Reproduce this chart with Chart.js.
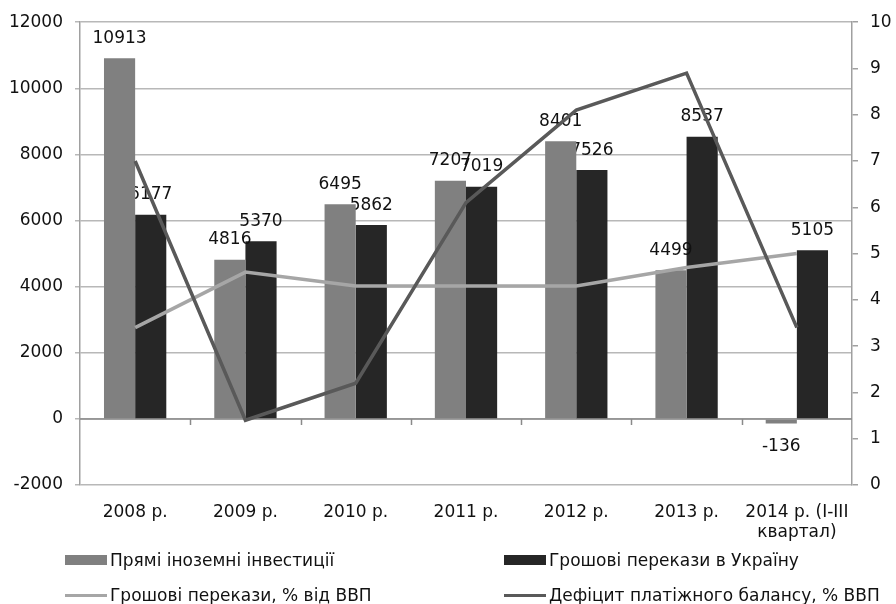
<!DOCTYPE html>
<html>
<head>
<meta charset="utf-8">
<script src="https://cdn.jsdelivr.net/npm/chart.js@4/dist/chart.umd.min.js"></script>
<style>
  body { margin:0; background:#fff; }
  #wrap { position:relative; width:896px; height:604px; }
  #legend { position:absolute; left:0; top:0; width:896px; height:604px; pointer-events:none;
    font-family: "DejaVu Sans", sans-serif; font-size:17px; color:#111; }
  .item { position:absolute; display:flex; align-items:center; white-space:nowrap; height:20px; }
  .sw { display:inline-block; margin-right:3px; }
</style>
</head>
<body>
<div id="wrap">
  <canvas id="chart" width="896" height="604"></canvas>
  <div id="legend"></div>
</div>
<script>
const years = ["2008 р.", "2009 р.", "2010 р.", "2011 р.", "2012 р.", "2013 р.", ["2014 р. (I-III", "квартал)"]];
const fdi = [10913, 4816, 6495, 7207, 8401, 4499, -136];
const remittances = [6177, 5370, 5862, 7019, 7526, 8537, 5105];
const remitGdp = [3.4, 4.6, 4.3, 4.3, 4.3, 4.7, 5.0];
const deficitGdp = [7.0, 1.4, 2.2, 6.1, 8.1, 8.9, 3.4];

const FONT = "'DejaVu Sans', sans-serif";

// підписи значень над стовпчиками
const barLabels = {
  id: "barLabels",
  afterDatasetDraw(chart, args) {
    const ds = chart.data.datasets[args.index];
    if (ds.type !== "bar") return;
    const ctx = chart.ctx;
    ctx.save();
    ctx.font = "17px " + FONT;
    ctx.fillStyle = "#111";
    ctx.textAlign = "center";
    ctx.textBaseline = "middle";
    args.meta.data.forEach((el, i) => {
      const v = ds.data[i];
      const y = v >= 0 ? el.y - 20 : el.y + 23;
      ctx.fillText(String(v), el.x, y);
    });
    ctx.restore();
  }
};

// вісь X на нулі з поділками між категоріями
const zeroAxis = {
  id: "zeroAxis",
  beforeDatasetsDraw(chart) {
    const x = chart.scales.x, y = chart.scales.y;
    const ctx = chart.ctx;
    const y0 = y.getPixelForValue(0);
    ctx.save();
    ctx.strokeStyle = "#8a8a8a";
    ctx.lineWidth = 1.5;
    ctx.beginPath();
    ctx.moveTo(chart.chartArea.left, y0);
    ctx.lineTo(chart.chartArea.right, y0);
    const step = x.getPixelForValue(1) - x.getPixelForValue(0);
    for (let i = 1; i < years.length; i++) {
      const px = Math.round(x.getPixelForValue(i) - step / 2) + 0.5;
      ctx.moveTo(px, y0);
      ctx.lineTo(px, y0 + 6);
    }
    ctx.stroke();
    ctx.restore();
  }
};

const chart = new Chart(document.getElementById("chart"), {
  data: {
    labels: years,
    datasets: [
      { type: "bar", label: "Прямі іноземні інвестиції", data: fdi, backgroundColor: "#808080",
        yAxisID: "y", order: 2, categoryPercentage: 0.565, barPercentage: 1 },
      { type: "bar", label: "Грошові перекази в Україну", data: remittances, backgroundColor: "#262626",
        yAxisID: "y", order: 2, categoryPercentage: 0.565, barPercentage: 1 },
      { type: "line", label: "Грошові перекази, % від ВВП", data: remitGdp, borderColor: "#a6a6a6",
        borderWidth: 3.5, pointRadius: 0, yAxisID: "y1", order: 1 },
      { type: "line", label: "Дефіцит платіжного балансу, % ВВП", data: deficitGdp, borderColor: "#595959",
        borderWidth: 3.5, pointRadius: 0, yAxisID: "y1", order: 0 }
    ]
  },
  options: {
    responsive: false,
    animation: false,
    layout: { padding: { top: 17, left: 0, right: 0, bottom: 0 } },
    plugins: { legend: { display: false }, tooltip: { enabled: false } },
    scales: {
      x: {
        grid: { display: false, drawTicks: false },
        border: { display: false },
        ticks: { font: { family: FONT, size: 17 }, color: "#111", padding: 17, maxRotation: 0, autoSkip: false },
        afterFit(s) { s.height = 119; }
      },
      y: {
        position: "left",
        min: -2000, max: 12000,
        ticks: { stepSize: 2000, font: { family: FONT, size: 17 }, color: "#111", padding: 12,
          callback: v => String(v) },
        grid: { color: "#b8b8b8", lineWidth: 1.5, tickLength: 5 },
        border: { display: true, color: "#a0a0a0", width: 1.5 },
        afterFit(s) { s.width = 80; }
      },
      y1: {
        position: "right",
        min: 0, max: 10,
        ticks: { stepSize: 1, font: { family: FONT, size: 17 }, color: "#111", padding: 12,
          callback: v => String(v) },
        grid: { drawOnChartArea: false, color: "#a0a0a0", lineWidth: 1.5, tickLength: 6 },
        border: { display: true, color: "#a0a0a0", width: 1.5 },
        afterFit(s) { s.width = 44; }
      }
    }
  },
  plugins: [barLabels, zeroAxis]
});

// легенда у дві колонки
const legendPos = [[65, 560], [504, 560], [65, 595], [504, 595]];
const legend = document.getElementById("legend");
chart.data.datasets.forEach((ds, i) => {
  const item = document.createElement("div");
  item.className = "item";
  item.style.left = legendPos[i][0] + "px";
  item.style.top = (legendPos[i][1] - 10) + "px";
  const sw = document.createElement("span");
  sw.className = "sw";
  sw.style.width = "42px";
  if (ds.type === "bar") {
    sw.style.height = "10px";
    sw.style.background = ds.backgroundColor;
  } else {
    sw.style.height = "3px";
    sw.style.background = ds.borderColor;
  }
  item.appendChild(sw);
  item.appendChild(document.createTextNode(ds.label));
  legend.appendChild(item);
});
</script>
</body>
</html>
